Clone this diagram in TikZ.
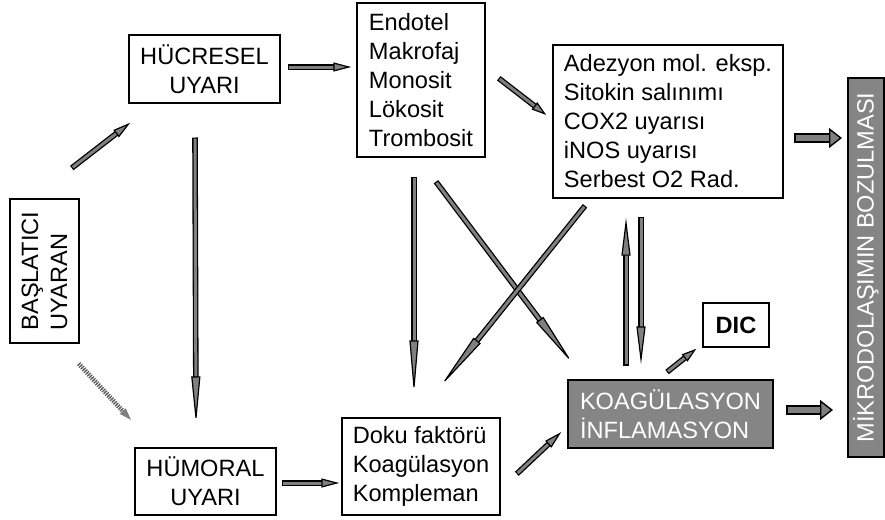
\documentclass[tikz,border=0pt]{standalone}
\usepackage{fontspec}
\setmainfont{Liberation Sans}
\usetikzlibrary{arrows.meta,calc}

\definecolor{boxgray}{gray}{0.52}
\definecolor{arrowgray}{gray}{0.5}

\tikzset{
    box/.style={draw, line width=0.7pt, fill=white, inner sep=0pt,
        font=\fontsize{11.8}{14.5}\selectfont},
    darkbox/.style={box, fill=boxgray, text=white},
    flow/.style={line width=1.5pt, draw=arrowgray,
        -{Triangle[length=#1,width=4.5pt,color=black,fill=arrowgray,line width=0.6pt]},
        preaction={draw=black, line width=2.8pt, arrows=-, shorten >=0.8*#1, shorten <=-0.6pt}},
    flow/.default=9pt,
    fatflow/.style={line width=3.4pt, draw=arrowgray,
        -{Triangle[length=6.5pt,width=10pt,color=black,fill=arrowgray,line width=0.7pt]},
        preaction={draw=black, line width=4.8pt, arrows=-, shorten >=5pt, shorten <=-0.7pt}},
    dotflow/.style={line width=2.4pt, draw=black!65, dash pattern=on 0.6pt off 0.6pt,
        -{Triangle[length=7pt,width=3.4pt,color=black!50]},
        preaction={draw=black!30, arrows=-, shorten >=5pt}}
}

\begin{document}
\begin{tikzpicture}[x=0.5pt,y=-0.5pt]
    \useasboundingbox (0,0) rectangle (885,520);

    % boxes
    \node[box, rotate=90, align=left, minimum width=72pt, minimum height=34.5pt] (bas) at (44.5,271) {BAŞLATICI\\UYARAN};
    \node[box, align=center, minimum width=75.5pt, minimum height=34pt] (hucre) at (204.5,69) {HÜCRESEL\\UYARI};
    \node[box, align=left, minimum width=64pt, minimum height=77pt] (endo) at (421,80) {Endotel\\Makrofaj\\Monosit\\Lökosit\\Trombosit};
    \node[box, align=left, minimum width=115pt, minimum height=76.5pt] (adez) at (668,121.5) {Adezyon mol. eksp.\\Sitokin salınımı\\COX2 uyarısı\\iNOS uyarısı\\Serbest O2 Rad.};
    \node[darkbox, rotate=90, minimum width=189.5pt, minimum height=18pt] (mikro) at (866,267.5) {MİKRODOLAŞIMIN BOZULMASI};
    \node[darkbox, align=left, minimum width=102.5pt, minimum height=34pt] (koag) at (670.5,414) {KOAGÜLASYON\\İNFLAMASYON};
    \node[box, minimum width=33pt, minimum height=22pt, font=\fontsize{11.8}{14.5}\selectfont\bfseries] (dic) at (736,325) {DIC};
    \node[box, align=center, minimum width=70.5pt, minimum height=33.5pt] (humor) at (205.5,481.5) {HÜMORAL\\UYARI};
    \node[box, align=left, minimum width=79pt, minimum height=48.5pt] (doku) at (421,466.5) {Doku faktörü\\Koagülasyon\\Kompleman};

    % arrows
    \draw[flow] ($(bas.south east)+(-7,-31)$) -- ($(hucre.south west)+(2,19)$);
    \draw[flow] ($(hucre.east)+(8,-2)$) -- ($(endo.west)+(-5,-13)$);
    \draw[flow=24pt] ($(hucre.south)+(-9.5,35)$) -- ($(humor.north)+(-9.5,-23)$);
    \draw[dotflow] ($(bas.south west)+(-1,20)$) -- ($(humor.north west)+(-2,-26)$);
    \draw[flow] ($(humor.east)+(6,1.5)$) -- ($(doku.west)+(-2,16.5)$);
    \draw[flow=7.5pt] ($(endo.east)+(14,-1)$) -- ($(adez.west)+(-6,-6.5)$);
    \draw[flow=27pt] ($(endo.south)+(-7,20)$) -- ($(doku.north)+(-7,-23)$);
    \draw[flow=28pt] ($(endo.south east)+(-49,25)$) -- ($(koag.north west)+(6,-15)$);
    \draw[flow=30pt] ($(adez.south west)+(32,8)$) -- ($(doku.north east)+(-61,-30)$);
    \draw[flow] ($(doku.east)+(17,6.5)$) -- ($(koag.west)+(-6,18)$);
    \draw[flow=19pt] ($(koag.north)+(-44.5,-15)$) -- ($(adez.south)+(-42,19)$);
    \draw[flow=19pt] ($(adez.south)+(-27,19)$) -- ($(koag.north)+(-29.5,-15)$);
    \draw[flow=7.5pt] ($(koag.north)+(-2.5,-8)$) -- ($(dic.south west)+(-6,1)$);
    \draw[fatflow] ($(adez.east)+(12,16.5)$) -- ($(adez.east -| mikro.center)+(-24,16.5)$);
    \draw[fatflow] ($(koag.east)+(14,-4)$) -- ($(koag.east -| mikro.center)+(-33,-4)$);
\end{tikzpicture}
\end{document}
